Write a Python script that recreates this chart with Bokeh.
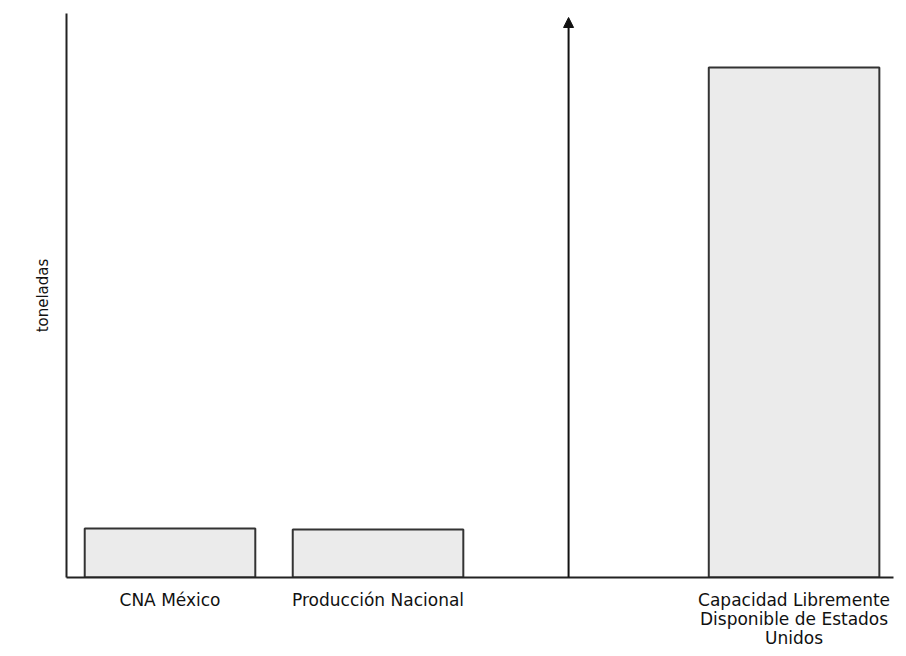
from bokeh.plotting import figure
from bokeh.models import FixedTicker, Range1d, Arrow, NormalHead, LinearAxis
from bokeh.embed import file_html
from bokeh.resources import INLINE

# data
categories = ["CNA México", "Producción Nacional", "Capacidad Libremente\nDisponible de Estados\nUnidos"]
slots = [0, 1, 3]
values = [49, 48, 510]
y_label = "toneladas"

p = figure(width=898, height=650, output_backend="svg", toolbar_location=None,
           x_range=Range1d(-0.4976, 3.478), y_range=Range1d(0, 564),
           min_border_left=66, min_border_right=5, min_border_top=13, min_border_bottom=10)
p.outline_line_color = None
p.xgrid.grid_line_color = None
p.ygrid.grid_line_color = None
p.background_fill_color = "white"

p.vbar(x=slots, top=values, bottom=0, width=0.82, fill_color="#ebebeb",
       line_color="#333333", line_width=2)

# separator arrow
p.add_layout(Arrow(x_start=1.916, y_start=0, x_end=1.916, y_end=560,
                   line_color="#111111", line_width=2,
                   end=NormalHead(size=10, fill_color="#111111", line_color="#111111")))

def style_axis(ax, standoff):
    ax.major_tick_line_color = None
    ax.minor_tick_line_color = None
    ax.major_label_text_font = "DejaVu Sans"
    ax.major_label_text_font_size = "17px"
    ax.major_label_text_color = "#111111"
    ax.major_label_standoff = standoff

# category labels: one axis per text line
lines = [c.split("\n") for c in categories]
n_lines = max(len(l) for l in lines)
p.xaxis.ticker = FixedTicker(ticks=slots)
p.xaxis.major_label_overrides = {s: l[0] for s, l in zip(slots, lines)}
p.xaxis.axis_line_width = 2
p.xaxis.axis_line_color = "#222222"
style_axis(p.xaxis[0], 6)
for i in range(1, n_lines):
    ticks = [s for s, l in zip(slots, lines) if len(l) > i]
    ax = LinearAxis(ticker=FixedTicker(ticks=ticks),
                    major_label_overrides={s: l[i] for s, l in zip(slots, lines) if len(l) > i},
                    axis_line_color=None)
    style_axis(ax, -10)
    p.add_layout(ax, "below")

p.yaxis.ticker = FixedTicker(ticks=[])
p.yaxis.major_tick_line_color = None
p.yaxis.minor_tick_line_color = None
p.yaxis.axis_line_width = 2
p.yaxis.axis_line_color = "#222222"
p.yaxis.axis_label = y_label
p.yaxis.axis_label_text_font = "DejaVu Sans"
p.yaxis.axis_label_text_font_style = "normal"
p.yaxis.axis_label_text_font_size = "15px"
p.yaxis.axis_label_text_color = "#111111"
p.yaxis.axis_label_standoff = 15

open("out.html", "w").write(file_html(p, INLINE))
